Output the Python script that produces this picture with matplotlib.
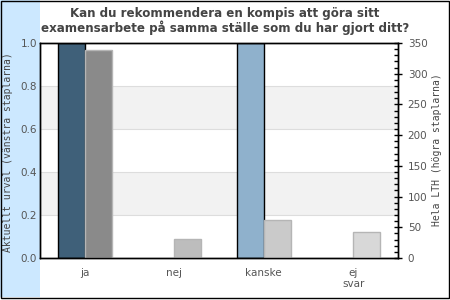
import matplotlib
matplotlib.use("Agg")
import matplotlib.pyplot as plt
import numpy as np
from matplotlib.patches import Rectangle
from matplotlib.ticker import MultipleLocator

categories = ["ja", "nej", "kanske", "ej\nsvar"]
urval = [1.0, 0.0, 1.0, 0.0]          # left axis (share)
hela_lth = [339, 31, 62, 42]          # right axis (count)

urval_colors = ["#3f6079", "#3f6079", "#8fb1cc", "#8fb1cc"]
lth_colors = ["#8a8a8a", "#bdbdbd", "#cacaca", "#d8d8d8"]

title = "Kan du rekommendera en kompis att göra sitt\nexamensarbete på samma ställe som du har gjort ditt?"

fig = plt.figure(figsize=(4.5, 3), dpi=100)
fig.patch.set_facecolor("white")

# light blue strip on the left and outer frame
fig.patches.append(Rectangle((0, 0.01), 40 / 450, 0.99, transform=fig.transFigure,
                             facecolor="#cce8ff", edgecolor="none", zorder=0))
fig.patches.append(Rectangle((0.5 / 450, 2.5 / 300), 448.5 / 450, 297 / 300,
                             transform=fig.transFigure, fill=False,
                             edgecolor="black", linewidth=1.0, zorder=5))

ax = fig.add_axes([40 / 450, 42 / 300, 358 / 450, 215 / 300])
ax.set_facecolor("white")
ax2 = ax.twinx()

x = np.arange(len(categories))
w = 0.30

# alternating bands and grid lines
for lo, hi in [(0.2, 0.4), (0.6, 0.8)]:
    ax.axhspan(lo, hi, color="#f2f2f2", zorder=0, linewidth=0)
for yv in [0.2, 0.4, 0.6, 0.8]:
    ax.axhline(yv, color="#dddddd", linewidth=0.8, zorder=0.5)

for i in range(len(categories)):
    if urval[i] > 0:
        ax.bar(x[i] - w / 2, urval[i], width=w, color=urval_colors[i],
               edgecolor="black", linewidth=1.0, zorder=2)
    ax2.bar(x[i] + w / 2, hela_lth[i], width=w, color=lth_colors[i],
            edgecolor="#b5b5b5", linewidth=1.0, zorder=2)

ax.set_xlim(-0.5, len(categories) - 0.5)
ax.set_ylim(0, 1.0)
ax2.set_ylim(0, 350)

ax.set_xticks(x)
ax.set_xticklabels(categories, fontsize=7.5, color="#555555", linespacing=1.1, va="top")
ax.tick_params(axis="x", length=0, pad=7)
ax.set_yticks([0.0, 0.2, 0.4, 0.6, 0.8, 1.0])
ax.set_yticklabels(["0.0", "0.2", "0.4", "0.6", "0.8", "1.0"], fontsize=7.5, color="#555555")
ax.tick_params(axis="y", length=0, pad=2)

ax2.yaxis.set_major_locator(MultipleLocator(50))
ax2.yaxis.set_minor_locator(MultipleLocator(10))
ax2.tick_params(axis="y", which="major", direction="inout", length=6, width=1,
                labelsize=7.5, labelcolor="#555555", pad=4)
ax2.tick_params(axis="y", which="minor", direction="in", length=3, width=1)

for a in (ax, ax2):
    for s in a.spines.values():
        s.set_color("black")
        s.set_linewidth(1.0)
ax2.patch.set_visible(False)
ax.set_zorder(1)
ax2.set_zorder(2)

fig.text(8 / 450, 1 - 152 / 300, "Aktuellt urval (vänstra staplarna)", rotation=90,
         ha="center", va="center", fontsize=7, family="DejaVu Sans Mono", color="#444444")
fig.text(437 / 450, 1 - 150 / 300, "Hela LTH (högra staplarna)", rotation=90,
         ha="center", va="center", fontsize=7, family="DejaVu Sans Mono", color="#444444")

fig.text(0.5, 1 - 21 / 300, title, ha="center", va="center", fontsize=8.6,
         fontweight="bold", color="#444444", linespacing=1.0)

fig.savefig("out.png", dpi=100)
